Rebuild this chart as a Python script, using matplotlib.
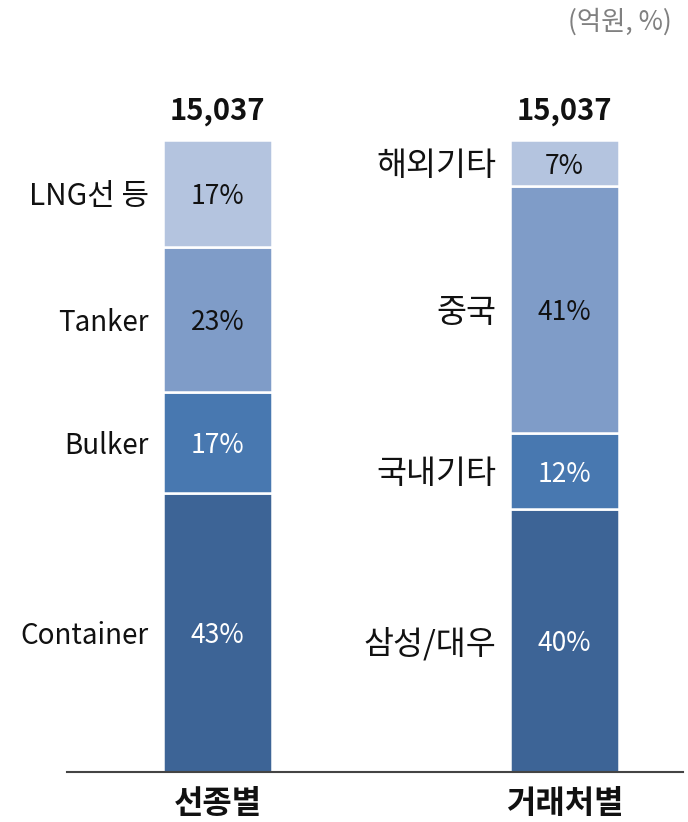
import matplotlib
matplotlib.use("Agg")
import matplotlib.pyplot as plt
import matplotlib.transforms as mtransforms
import numpy as np

plt.rcParams['font.family'] = ['Noto Sans CJK KR', 'DejaVu Sans']

categories = ['선종별', '거래처별']
totals = ['15,037', '15,037']
seg_labels_1 = ['Container', 'Bulker', 'Tanker', 'LNG선 등']
seg_pct_1 = ['43%', '17%', '23%', '17%']
seg_share_1 = [44.1, 16.0, 22.9, 17.0]
seg_labels_2 = ['삼성/대우', '국내기타', '중국', '해외기타']
seg_pct_2 = ['40%', '12%', '41%', '7%']
seg_share_2 = [41.6, 12.0, 39.1, 7.3]
colors = ['#3D6496', '#4878B0', '#7F9CC8', '#B4C4DF']
text_colors = ['white', 'white', '#111111', '#111111']
unit_text = '(억원, %)'

W, H = 688, 822
fig = plt.figure(figsize=(W/100, H/100), dpi=100)
ax_left, ax_right, ax_top, ax_bot = 67, 683, 140, 772
ax = fig.add_axes([ax_left/W, 1-ax_bot/H, (ax_right-ax_left)/W, (ax_bot-ax_top)/H])

spacing = 347.0
ax.set_xlim(-(217.5-ax_left)/spacing, 1 + (ax_right-564.5)/spacing)
ax.set_ylim(0, 100)
bar_w = 109/spacing

shift = mtransforms.ScaledTranslation(0, -3/100, fig.dpi_scale_trans)
tdata = ax.transData + shift

def label_size(s):
    n_cjk = sum(1 for c in s if ord(c) > 127)
    if n_cjk == 0:
        return 20
    if n_cjk == len(s.replace(' ', '').replace('/', '')):
        return 23.5
    return 21.5

for i, (labels, pcts, vals) in enumerate([(seg_labels_1, seg_pct_1, seg_share_1),
                                          (seg_labels_2, seg_pct_2, seg_share_2)]):
    bottom = 0
    for j, (lab, p, v) in enumerate(zip(labels, pcts, vals)):
        ax.bar(i, v, bottom=bottom, width=bar_w, color=colors[j], edgecolor='white', linewidth=1.8)
        mid = bottom + v/2
        ax.text(i, mid, p, ha='center', va='center', fontsize=19, color=text_colors[j], transform=tdata)
        ax.text(i - bar_w/2 - 14/spacing, mid, lab, ha='right', va='center', fontsize=label_size(lab),
                color='#111111', transform=tdata)
        bottom += v
    ax.text(i, 105, totals[i], ha='center', va='center', fontsize=21, fontweight='bold',
            color='#111111', clip_on=False, transform=tdata)
    ax.text(i, -5, categories[i], ha='center', va='center', fontsize=23, fontweight='bold',
            color='#111111', clip_on=False)

for s in ['top', 'right', 'left']:
    ax.spines[s].set_visible(False)
ax.spines['bottom'].set_color('#444444')
ax.spines['bottom'].set_linewidth(1.5)
ax.set_xticks([])
ax.set_yticks([])

fig.text(672/W, 1-22/H, unit_text, ha='right', va='center', fontsize=19, color='#808080')

fig.savefig('out.png', dpi=100)
